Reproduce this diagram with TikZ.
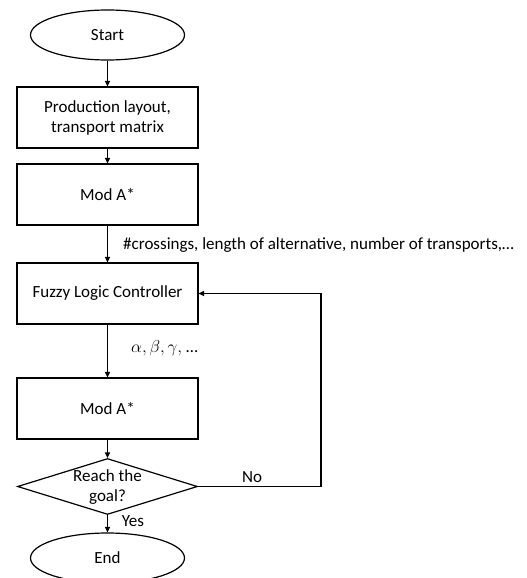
\documentclass[tikz,border=0pt]{standalone}
\usepackage{fontspec}
\setmainfont{Carlito}
\usetikzlibrary{shapes.geometric,arrows.meta}
\begin{document}
\begin{tikzpicture}[x=1pt,y=-1pt,
  font=\fontsize{17}{20}\selectfont,
  conn/.style={line width=1.2pt,-{Triangle[length=5.5pt,width=5pt]}},
  box/.style={draw,line width=1.2pt,rectangle,minimum width=181pt,minimum height=61pt,inner sep=0pt,align=center},
  oval/.style={draw,line width=1.2pt,ellipse,minimum width=154pt,minimum height=50pt,inner sep=0pt},
  decision/.style={draw,line width=1.2pt,diamond,minimum width=180pt,minimum height=56pt,inner sep=0pt},
  lbl/.style={inner sep=0pt}]
\useasboundingbox (0,0) rectangle (527,578);
\node[oval] (start) at (107.5,35) {Start};
\node[box] (layout) at (107.5,117.5) {Production layout,\\transport matrix};
\node[box] (moda) at (107.5,194.5) {Mod A*};
\node[box] (flc) at (107.5,293.5) {Fuzzy Logic Controller};
\node[box] (modb) at (107.5,408.5) {Mod A*};
\node[decision] (dec) at (107.5,486.5) {};
\node[lbl,align=center,font=\fontsize{17}{20.5}\selectfont] (dectext) at (107.5,487) {Reach the\\goal?};
\node[oval] (end) at (107.5,558) {End};
\coordinate (loop) at (321,486.5);

\draw[conn] (start) -- (layout);
\draw[conn] (layout) -- (moda);
\draw[conn] (moda) -- (flc);
\draw[conn] (flc) -- (modb);
\draw[conn] (modb) -- (dec);
\draw[conn] (dec) -- (end);
\draw[conn] (dec.east) -- (loop) |- (flc.east);

\node[lbl,anchor=west] (feat) at (123,245) {\#crossings, length of alternative, number of transports,…};
\node[lbl,anchor=west] (params) at (131,348) {$\alpha,\beta,\gamma,$ …};
\node[lbl] (no) at (252,477) {No};
\node[lbl] (yes) at (133,521) {Yes};
\end{tikzpicture}
\end{document}
